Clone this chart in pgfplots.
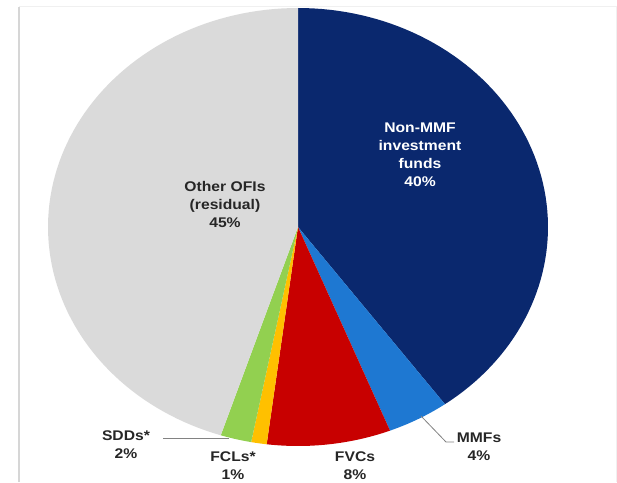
\documentclass[border=0pt]{standalone}
\usepackage{pgfplots}
\pgfplotsset{compat=1.18}
\usepackage{fontspec}
\setmainfont{Liberation Sans}

\definecolor{navy}{RGB}{10,40,110}
\definecolor{mmfblue}{RGB}{30,120,210}
\definecolor{fvcred}{RGB}{200,0,0}
\definecolor{fclgold}{RGB}{255,192,0}
\definecolor{sddgreen}{RGB}{146,208,80}
\definecolor{othergray}{RGB}{218,218,218}
\definecolor{leader}{RGB}{130,130,130}

% pie geometry (drawing units): centre and the two radii
\def\cx{298}
\def\cy{255}
\def\rx{250}
\def\ry{219}

\begin{document}
\begin{tikzpicture}[
  lbl/.style={font=\bfseries\fontsize{14}{18}\selectfont, align=center, xscale=1.12, inner sep=0pt}]
\begin{axis}[
  name=ax,
  width=617pt, height=482pt, scale only axis,
  xmin=0, xmax=617, ymin=0, ymax=482,
  hide axis, clip=false]

% frame
\draw[color=black!6, line width=1pt] (axis cs:19,475) -- (axis cs:616,475) -- (axis cs:616,0);
\draw[color=black!16, line width=2pt] (axis cs:19,0) -- (axis cs:19,475);

% slices, clockwise from twelve o'clock; shares in percent:
% Non-MMF 40, MMFs 4, FVCs 8, FCLs 1, SDDs 2, Other OFIs 45
\addplot[fill=navy, draw=none, domain={90-3.6*40}:{90}, samples=80, variable=\t]
  ({\cx+\rx*cos(\t)}, {\cy+\ry*sin(\t)}) -- (axis cs:\cx,\cy) -- cycle;
\addplot[fill=mmfblue, draw=none, domain={90-3.6*(40+4)}:{90-3.6*40}, samples=20, variable=\t]
  ({\cx+\rx*cos(\t)}, {\cy+\ry*sin(\t)}) -- (axis cs:\cx,\cy) -- cycle;
\addplot[fill=fvcred, draw=none, domain={90-3.6*(44+8)}:{90-3.6*44}, samples=30, variable=\t]
  ({\cx+\rx*cos(\t)}, {\cy+\ry*sin(\t)}) -- (axis cs:\cx,\cy) -- cycle;
\addplot[fill=fclgold, draw=none, domain={90-3.6*(52+1)}:{90-3.6*52}, samples=8, variable=\t]
  ({\cx+\rx*cos(\t)}, {\cy+\ry*sin(\t)}) -- (axis cs:\cx,\cy) -- cycle;
\addplot[fill=sddgreen, draw=none, domain={90-3.6*(53+2)}:{90-3.6*53}, samples=10, variable=\t]
  ({\cx+\rx*cos(\t)}, {\cy+\ry*sin(\t)}) -- (axis cs:\cx,\cy) -- cycle;
\addplot[fill=othergray, draw=none, domain={90-3.6*(55+45)}:{90-3.6*55}, samples=90, variable=\t]
  ({\cx+\rx*cos(\t)}, {\cy+\ry*sin(\t)}) -- (axis cs:\cx,\cy) -- cycle;

% leader lines
\draw[leader, line width=0.8pt] (axis cs:229,44) -- (axis cs:163,44);
\draw[leader, line width=0.8pt] (axis cs:421,66) -- (axis cs:446,40) -- (axis cs:454,40);

% labels
\node[lbl, text=white] at (axis cs:420,327) {Non-MMF\\investment\\funds\\40\%};
\node[lbl, text=black!85] at (axis cs:225,278) {Other OFIs\\(residual)\\45\%};
\node[lbl, text=black!85] at (axis cs:479,35) {MMFs\\4\%};
\node[lbl, text=black!85] at (axis cs:355,16) {FVCs\\8\%};
\node[lbl, text=black!85] at (axis cs:233,16) {FCLs*\\1\%};
\node[lbl, text=black!85] at (axis cs:126,37) {SDDs*\\2\%};
\end{axis}
\pgfresetboundingbox
\path[use as bounding box] (ax.south west) rectangle (ax.north east);
\end{tikzpicture}
\end{document}
